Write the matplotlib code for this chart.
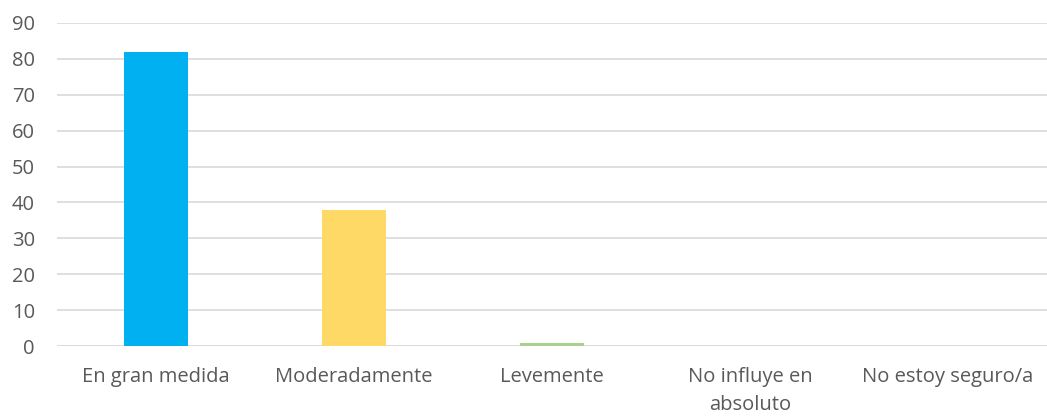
import matplotlib
matplotlib.use("Agg")
import matplotlib.pyplot as plt

categories = ["En gran medida", "Moderadamente", "Levemente",
              "No influye en\nabsoluto", "No estoy seguro/a"]
values = [82, 38, 1, 0, 0]
colors = ["#00B0F0", "#FFD966", "#A9D18E", "#5B9BD5", "#ED7D31"]

plt.rcParams["font.family"] = ["Open Sans", "DejaVu Sans"]

fig = plt.figure(figsize=(10.47, 4.17), dpi=100)
ax = fig.add_axes([0.0545, 0.170, 0.9455, 0.775])

x = range(len(categories))
ax.bar(x, values, width=0.32, color=colors, zorder=3)

ax.set_ylim(0, 90)
ax.set_yticks(range(0, 91, 10))
ax.set_xlim(-0.5, len(categories) - 0.5)
ax.set_xticks(list(x))
ax.set_xticklabels(categories, linespacing=1.55)
ax.grid(axis="y", color="#D9D9D9", linewidth=1.2, zorder=0)
ax.tick_params(axis="both", length=0, colors="#595959", labelsize=14.5)
ax.tick_params(axis="x", pad=15)
ax.tick_params(axis="y", pad=16)
for s in ax.spines.values():
    s.set_visible(False)
ax.axhline(0, color="#D9D9D9", linewidth=1.2, zorder=1)

fig.savefig("out.png", dpi=100)
